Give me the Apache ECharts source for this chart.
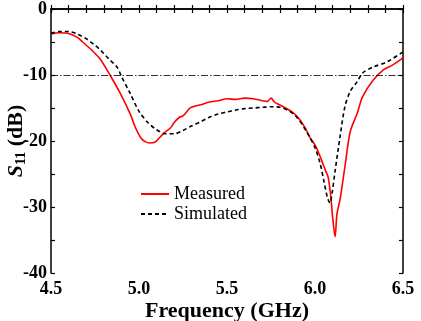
<!DOCTYPE html>
<html><head><meta charset="utf-8">
<script src="https://cdn.jsdelivr.net/npm/echarts@6/dist/echarts.min.js"></script>
<style>html,body{margin:0;padding:0;background:#fff}#c{width:421px;height:321px}</style>
</head><body><div id="c"></div>
<script>
const measuredFreq = [4.5,4.55,4.6,4.65,4.68,4.73,4.78,4.835,4.89,4.95,4.98,5.01,5.035,5.06,5.09,5.12,5.15,5.18,5.2,5.23,5.25,5.29,5.32,5.35,5.4,5.45,5.5,5.55,5.6,5.65,5.7,5.73,5.75,5.77,5.82,5.87,5.915,5.95,5.97,6.0,6.03,6.06,6.075,6.09,6.1,6.114,6.125,6.142,6.17,6.2,6.24,6.27,6.33,6.39,6.44,6.5];
const measuredS11 = [-3.8,-3.6,-3.7,-4.3,-5.0,-6.2,-7.6,-10.0,-12.6,-15.9,-18.0,-19.5,-20.1,-20.3,-20.2,-19.4,-18.6,-18.0,-17.2,-16.4,-16.2,-15.0,-14.7,-14.5,-14.1,-13.9,-13.6,-13.7,-13.5,-13.6,-13.9,-14.0,-13.5,-14.1,-14.8,-15.6,-16.8,-18.3,-19.4,-20.6,-22.4,-24.5,-25.5,-28.5,-31.5,-34.5,-31.0,-28.9,-23.9,-18.6,-15.8,-13.3,-10.8,-9.2,-8.5,-7.4];
const simulatedFreq = [4.5,4.55,4.6,4.65,4.7,4.75,4.78,4.83,4.875,4.9,4.95,5.0,5.05,5.1,5.15,5.2,5.25,5.3,5.35,5.4,5.45,5.5,5.55,5.6,5.65,5.7,5.75,5.8,5.85,5.9,5.95,6.0,6.03,6.05,6.07,6.085,6.097,6.115,6.142,6.17,6.2,6.24,6.27,6.33,6.41,6.5];
const simulatedS11 = [-3.7,-3.4,-3.4,-3.8,-4.5,-5.5,-6.2,-7.6,-8.8,-10.2,-12.8,-15.5,-17.2,-18.3,-18.9,-18.9,-18.4,-17.7,-17.1,-16.4,-15.9,-15.6,-15.3,-15.1,-15.0,-14.9,-14.8,-14.9,-15.4,-16.5,-18.5,-21.0,-23.5,-26.0,-28.5,-29.4,-27.9,-24.4,-19.4,-14.8,-12.5,-11.0,-9.7,-8.8,-8.0,-6.5];
const seriesNames = ['Measured','Simulated'];
const xTickLabels = ['4.5','5.0','5.5','6.0','6.5'];
const yTickLabels = ['0','-10','-20','-30','-40'];
const refLevel = -10;

const pair = (xs, ys) => xs.map((x, i) => [x, ys[i]]);
const serif = 'Liberation Serif';
const chart = echarts.init(document.getElementById('c'), null, {renderer: 'canvas'});
const axLine = {show: true, lineStyle: {color: '#000', width: 1.5}};
const tickStyle = {show: true, inside: true, length: 4, lineStyle: {color: '#000', width: 1.2}};
const fmtX = v => { const s = (Math.round(v * 10) / 10).toFixed(1); return xTickLabels.includes(s) ? s : ''; };
const fmtY = v => { const s = String(Math.round(v)); return yTickLabels.includes(s) ? s : ''; };
chart.setOption({
  animation: false,
  grid: {left: 51, right: 18, top: 9, bottom: 48, containLabel: false, outerBoundsMode: 'none'},
  legend: {
    orient: 'vertical', left: 140, top: 185, padding: 0, itemWidth: 28, itemHeight: 10, itemGap: 2,
    data: seriesNames,
    itemStyle: {opacity: 0},
    textStyle: {fontFamily: serif, fontSize: 18, color: '#000'}
  },
  xAxis: [{
    type: 'value', min: 4.5, max: 6.5, interval: 0.1,
    axisLine: axLine, axisTick: tickStyle, splitLine: {show: false},
    axisLabel: {formatter: fmtX, fontFamily: serif, fontWeight: 'bold', fontSize: 18, color: '#000', margin: 7, showMinLabel: true, showMaxLabel: true},
    name: 'Frequency (GHz)', nameLocation: 'middle', nameGap: 27, nameMoveOverlap: false,
    nameTextStyle: {fontFamily: serif, fontWeight: 'bold', fontSize: 22, color: '#000'}
  }, {
    type: 'value', position: 'top', min: 4.5, max: 6.5, interval: 0.1,
    axisLine: axLine, axisTick: tickStyle, axisLabel: {show: false}, splitLine: {show: false}
  }],
  yAxis: [{
    type: 'value', min: -40, max: 0, interval: 5,
    axisLine: axLine, axisTick: tickStyle, splitLine: {show: false},
    axisLabel: {formatter: fmtY, fontFamily: serif, fontWeight: 'bold', fontSize: 18, color: '#000', margin: 4},
    name: '{s|S}{sub|11}{n| (dB)}', nameLocation: 'middle', nameGap: 23, nameRotate: 90, nameMoveOverlap: false,
    nameTextStyle: {
      rich: {
        s: {fontFamily: serif, fontWeight: 'bold', fontStyle: 'italic', fontSize: 22, color: '#000'},
        sub: {fontFamily: serif, fontWeight: 'bold', fontSize: 14, color: '#000', verticalAlign: 'bottom', padding: [9, 0, 0, 0]},
        n: {fontFamily: serif, fontWeight: 'bold', fontSize: 22, color: '#000'}
      }
    }
  }, {
    type: 'value', position: 'right', min: -40, max: 0, interval: 5,
    axisLine: axLine, axisTick: tickStyle, axisLabel: {show: false}, splitLine: {show: false}
  }],
  series: [{
    name: seriesNames[0], type: 'line', data: pair(measuredFreq, measuredS11),
    showSymbol: false, symbol: 'none', smooth: 0.3,
    lineStyle: {color: '#ff0000', width: 1.6}, itemStyle: {color: '#ff0000'},
    markLine: {
      silent: true, symbol: 'none', label: {show: false},
      lineStyle: {color: '#000', width: 0.8, type: [7, 2, 1.5, 2]},
      data: [{yAxis: refLevel}]
    }
  }, {
    name: seriesNames[1], type: 'line', data: pair(simulatedFreq, simulatedS11),
    showSymbol: false, symbol: 'none', smooth: 0.3,
    lineStyle: {color: '#000', width: 1.6, type: [4, 3]}, itemStyle: {color: '#000'}
  }]
});
</script></body></html>
